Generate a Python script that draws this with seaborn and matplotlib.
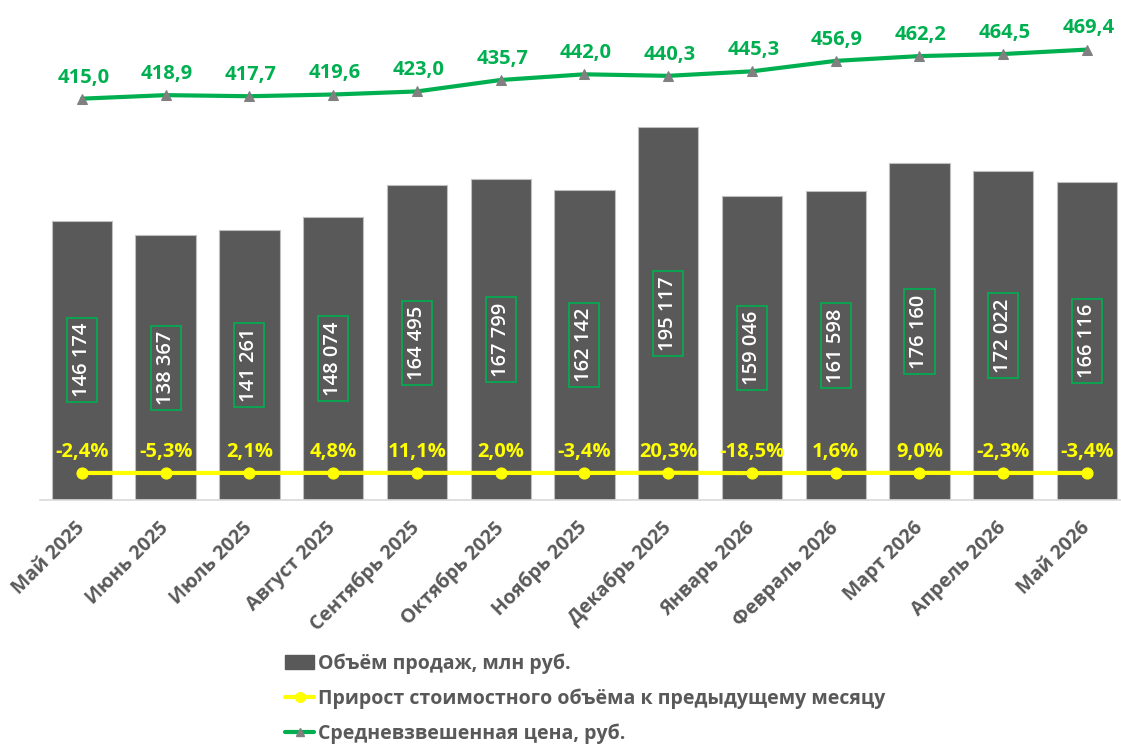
import numpy as np
import pandas as pd
import seaborn as sns
import matplotlib.pyplot as plt
from matplotlib.patches import Patch
from matplotlib.lines import Line2D

months = ["Май 2025", "Июнь 2025", "Июль 2025", "Август 2025", "Сентябрь 2025",
          "Октябрь 2025", "Ноябрь 2025", "Декабрь 2025", "Январь 2026",
          "Февраль 2026", "Март 2026", "Апрель 2026", "Май 2026"]
volume = [146174, 138367, 141261, 148074, 164495, 167799, 162142,
          195117, 159046, 161598, 176160, 172022, 166116]
growth_pct = [-2.4, -5.3, 2.1, 4.8, 11.1, 2.0, -3.4, 20.3, -18.5, 1.6, 9.0, -2.3, -3.4]
avg_price = [415.0, 418.9, 417.7, 419.6, 423.0, 435.7, 442.0, 440.3,
             445.3, 456.9, 462.2, 464.5, 469.4]

legend_labels = ["Объём продаж, млн руб.",
                 "Прирост стоимостного объёма к предыдущему месяцу",
                 "Средневзвешенная цена, руб."]

BAR = "#595959"
GREEN = "#00B050"
YELLOW = "#FFFF00"
TEXT = "#595959"

sns.set_theme(style="white")
plt.rcParams["font.family"] = ["Open Sans", "DejaVu Sans"]

df = pd.DataFrame({"month": months, "volume": volume,
                   "growth": np.array(growth_pct) / 100, "price": avg_price,
                   "pos": np.arange(len(months))})

fig = plt.figure(figsize=(11.21, 7.47), dpi=100)
ax = fig.add_axes([40 / 1121, 247 / 747, 1081 / 1121, 478 / 747])

sns.barplot(data=df, x="month", y="volume", color=BAR, saturation=1,
            width=0.72, edgecolor="#BFBFBF", linewidth=0.8, ax=ax)
ax.set_ylim(0, 250000)
ax.set_xlim(-0.5, 12.406)
ax.set_xlabel("")
ax.set_ylabel("")
ax.set_yticks([])
for s in ["top", "left", "right"]:
    ax.spines[s].set_visible(False)
ax.spines["bottom"].set_color("#D9D9D9")
ax.spines["bottom"].set_linewidth(1.2)
ax.tick_params(axis="x", length=0, pad=18)
for lbl in ax.get_xticklabels():
    lbl.set_rotation(45)
    lbl.set_ha("right")
    lbl.set_va("center")
    lbl.set_rotation_mode("anchor")
    lbl.set_fontweight("bold")
    lbl.set_fontsize(14)
    lbl.set_color(TEXT)

# bar value labels in green boxes
for i, v in enumerate(volume):
    ax.text(i, v / 2, f"{v:,}".replace(",", " "), rotation=90, ha="center",
            va="center", color="white", fontsize=14.5, fontweight="semibold",
            bbox=dict(boxstyle="square,pad=0.25", fc="none", ec=GREEN, lw=1.2))

# secondary axis: price and growth
ax2 = ax.twinx()
ax2.set_ylim(-30, 500)
sns.lineplot(data=df, x="pos", y="price", color=GREEN, linewidth=3,
             marker="^", markersize=7, markerfacecolor="#808080",
             markeredgecolor="#808080", ax=ax2)
sns.lineplot(data=df, x="pos", y="growth", color=YELLOW, linewidth=3,
             marker="o", markersize=8, markerfacecolor=YELLOW,
             markeredgecolor=YELLOW, ax=ax2)
ax2.set_yticks([])
ax2.set_ylabel("")
ax2.set_xlabel("")
for s in ["top", "left", "right", "bottom"]:
    ax2.spines[s].set_visible(False)
ax.set_xlim(-0.5, 12.406)

for i, v in enumerate(avg_price):
    ax2.annotate(f"{v:.1f}".replace(".", ","), (i, v), xytext=(1, 8),
                 textcoords="offset points", ha="center", va="bottom",
                 color=GREEN, fontsize=14.5, fontweight="bold")
for i, v in enumerate(growth_pct):
    ax2.annotate(f"{v:.1f}%".replace(".", ","), (i, v / 100), xytext=(0, 8),
                 textcoords="offset points", ha="center", va="bottom",
                 color=YELLOW, fontsize=14.5, fontweight="bold")

handles = [Patch(facecolor=BAR, edgecolor=BAR),
           Line2D([], [], color=YELLOW, lw=3, marker="o", markersize=7),
           Line2D([], [], color=GREEN, lw=3, marker="^", markersize=6,
                  markerfacecolor="#808080", markeredgecolor="#808080")]
leg = fig.legend(handles, legend_labels, loc="upper left",
                 bbox_to_anchor=(285 / 1121, 1 - 653 / 747), frameon=False,
                 prop={"weight": "bold", "size": 14}, labelspacing=0.75,
                 handlelength=1.5, handletextpad=0.2, borderpad=0,
                 borderaxespad=0)
for t in leg.get_texts():
    t.set_color(TEXT)

fig.savefig("out.png", dpi=100)
